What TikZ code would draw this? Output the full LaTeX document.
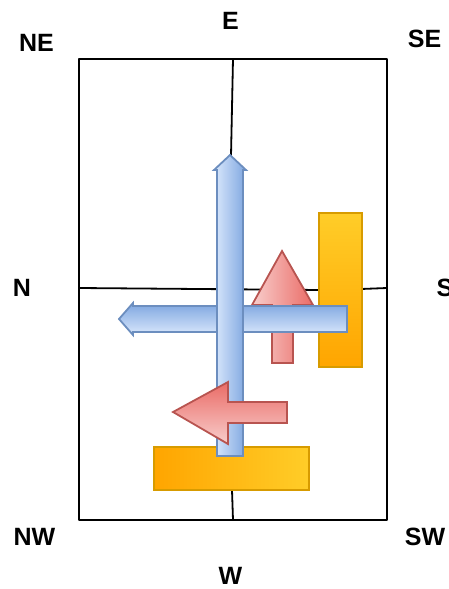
\documentclass[tikz,border=0pt]{standalone}
\usepackage{fontspec}
\setmainfont{Liberation Sans}
\definecolor{bluelight}{HTML}{DAE8FC}
\definecolor{bluedark}{HTML}{7EA6E0}
\definecolor{bluestroke}{HTML}{6C8EBF}
\definecolor{redlight}{HTML}{F8CECC}
\definecolor{reddark}{HTML}{EA6B66}
\definecolor{redstroke}{HTML}{B85450}
\definecolor{orlight}{HTML}{FFCD28}
\definecolor{ordark}{HTML}{FFA500}
\definecolor{orstroke}{HTML}{D79B00}
\begin{document}
\begin{tikzpicture}[x=1pt,y=-1pt,
  lbl/.style={font=\fontsize{25}{30}\selectfont\bfseries, inner sep=0pt, anchor=center},
  gridline/.style={draw=black, line width=1.8pt, line join=round},
  bluearrow/.style={draw=bluestroke, line width=1.8pt, line join=miter},
  redarrow/.style={draw=redstroke, line width=1.8pt, line join=miter},
  orbar/.style={draw=orstroke, line width=1.8pt}]
\useasboundingbox (0,0) rectangle (448,589);
% frame corners and line ends
\coordinate (tl) at (79,59);
\coordinate (br) at (387,520);
\coordinate (etop) at (233,59);
\coordinate (btip) at (231,156);
\coordinate (obot) at (232,490);
\coordinate (wbot) at (233,520);
\coordinate (nleft) at (79,288);
\coordinate (obl) at (320,290);
\coordinate (obr) at (361,289);
\coordinate (sright) at (387,288);
% grid
\draw[gridline] (tl) rectangle (br);
\draw[gridline] (etop) -- (btip);
\draw[gridline] (obot) -- (wbot);
\draw[gridline] (nleft) -- (obl);
\draw[gridline] (obr) -- (sright);
% orange bars
\shadedraw[orbar, top color=orlight, bottom color=ordark] (319,213) rectangle (362,367);
\shadedraw[orbar, left color=ordark, right color=orlight] (154,447) rectangle (309,490);
% red up arrow
\shadedraw[redarrow, left color=redlight, right color=reddark]
  (282,251) -- (313,305) -- (293,305) -- (293,363) -- (272,363) -- (272,305) -- (252,305) -- cycle;
% blue horizontal arrow
\shadedraw[bluearrow, top color=bluedark, bottom color=bluelight]
  (119,319) -- (133,303) -- (133,306) -- (347,306) -- (347,332) -- (133,332) -- (133,335) -- cycle;
% blue vertical arrow
\shadedraw[bluearrow, left color=bluelight, right color=bluedark]
  (230,155) -- (246,170) -- (243,170) -- (243,456) -- (217,456) -- (217,170) -- (214,170) -- cycle;
% red left arrow
\shadedraw[redarrow, top color=reddark, bottom color=redlight]
  (173,412) -- (228,382) -- (228,402) -- (287,402) -- (287,423) -- (228,423) -- (228,444) -- cycle;
% labels
\node[lbl] (E) at (230.5,20.5) {E};
\node[lbl] (NE) at (36.5,43) {NE};
\node[lbl] (SE) at (424.5,38.5) {SE};
\node[lbl] (N) at (22,288) {N};
\node[lbl] (S) at (445,288) {S};
\node[lbl] (NW) at (34.5,536.7) {NW};
\node[lbl] (SW) at (425,536.7) {SW};
\node[lbl] (W) at (230.5,576) {W};
\end{tikzpicture}
\end{document}
